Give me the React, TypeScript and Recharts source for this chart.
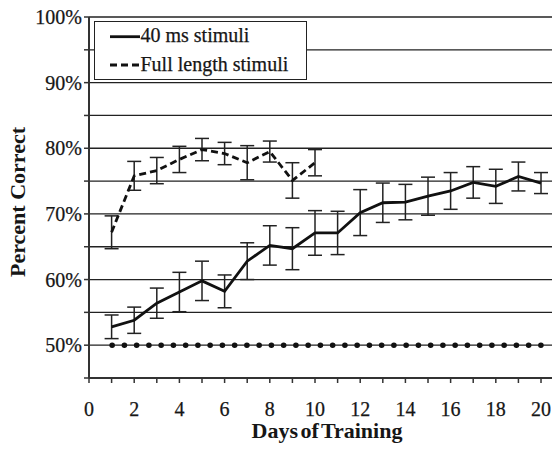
import React from 'react';
import { ComposedChart, Line, XAxis, YAxis, CartesianGrid, ErrorBar, Legend, ReferenceLine } from 'recharts';

const days40 = [1, 2, 3, 4, 5, 6, 7, 8, 9, 10, 11, 12, 13, 14, 15, 16, 17, 18, 19, 20];
const pct40 = [52.8, 53.8, 56.4, 58.1, 59.8, 58.2, 62.8, 65.2, 64.7, 67.1, 67.1, 70.2, 71.7, 71.8, 72.7, 73.5, 74.8, 74.2, 75.7, 74.7];
const err40 = [1.8, 2.0, 2.3, 3.0, 3.0, 2.5, 2.8, 3.0, 3.2, 3.4, 3.3, 3.5, 3.0, 2.7, 2.9, 2.8, 2.4, 2.6, 2.2, 1.6];

const daysFull = [1, 2, 3, 4, 5, 6, 7, 8, 9, 10];
const pctFull = [67.2, 75.8, 76.6, 78.3, 79.8, 79.2, 77.8, 79.5, 75.1, 77.8];
const errFull = [2.5, 2.2, 2.0, 2.0, 1.7, 1.7, 2.6, 1.6, 2.7, 2.0];

const chanceDays = [1, 20];
const chanceLevel = 50;

const xTicks = [0, 1, 2, 3, 4, 5, 6, 7, 8, 9, 10, 11, 12, 13, 14, 15, 16, 17, 18, 19, 20];
const yTicks = [45, 50, 55, 60, 65, 70, 75, 80, 85, 90, 95, 100];

const seriesNames = ['40 ms stimuli', 'Full length stimuli'];
const xTitle = 'Days of Training';
const yTitle = 'Percent Correct';

const FONT = '"Liberation Serif", "Times New Roman", serif';
const INK = '#161616';

const data40 = days40.map((d, i) => ({ day: d, pct: pct40[i], err: err40[i] }));
const dataFull = daysFull.map((d, i) => ({ day: d, pct: pctFull[i], err: errFull[i] }));

const LegendBox = () => (
  <div
    style={{
      width: 213,
      height: 59,
      boxSizing: 'border-box',
      border: '1.5px solid #222',
      background: '#fff',
    }}
  >
    <svg width={210} height={56} style={{ display: 'block' }}>
      <line x1={15} x2={45} y1={14.7} y2={14.7} stroke="#111" strokeWidth={2.8} />
      <text x={45.5} y={20.3} style={{ fontFamily: FONT }} fontSize={20} fill={INK} stroke={INK} strokeWidth={0.25}>
        {seriesNames[0]}
      </text>
      <line x1={15} x2={45} y1={43} y2={43} stroke="#111" strokeWidth={2.8} strokeDasharray="7 4" />
      <text x={45.5} y={48.7} style={{ fontFamily: FONT }} fontSize={20} fill={INK} stroke={INK} strokeWidth={0.25}>
        {seriesNames[1]}
      </text>
    </svg>
  </div>
);

export default function App() {
  return (
    <div>
      <ComposedChart width={552} height={442} margin={{ top: 9, right: 0, bottom: 0, left: 0 }}>
        <CartesianGrid vertical={false} stroke="#222" strokeWidth={1.3} />
        <XAxis
          type="number"
          dataKey="day"
          domain={[0, 20.84]}
          ticks={xTicks}
          interval={0}
          allowDataOverflow
          height={72}
          tickSize={5}
          tickMargin={19}
          axisLine={{ stroke: '#333', strokeWidth: 2 }}
          tickLine={{ stroke: '#333', strokeWidth: 1.5 }}
          tick={{ fontSize: 20, fill: INK, stroke: INK, strokeWidth: 0.25, style: { fontFamily: FONT } }}
          tickFormatter={(v: number) => (v % 2 === 0 ? String(v) : '')}
          label={() => (
            <text x={319} y={429.5} textAnchor="middle" style={{ fontFamily: FONT }} fontSize={22} fontWeight="bold" fill={INK} wordSpacing={-3}>
              {xTitle}
            </text>
          )}
        />
        <YAxis
          type="number"
          domain={[45, 100]}
          ticks={yTicks}
          interval={0}
          allowDataOverflow
          width={81}
          tickSize={5}
          tickMargin={2}
          axisLine={{ stroke: '#333', strokeWidth: 2 }}
          tickLine={{ stroke: '#333', strokeWidth: 1.5 }}
          tick={{ fontSize: 20, fill: INK, stroke: INK, strokeWidth: 0.25, style: { fontFamily: FONT } }}
          tickFormatter={(v: number) => (v % 10 === 0 ? `${v}%` : '')}
          label={() => (
            <text
              x={17}
              y={194}
              transform="rotate(-90, 17, 194)"
              textAnchor="middle"
              style={{ fontFamily: FONT }}
              fontSize={22}
              fontWeight="bold"
              fill={INK}
            >
              {yTitle}
            </text>
          )}
        />
        <Legend
          layout="horizontal"
          verticalAlign="middle"
          align="center"
          wrapperStyle={{ left: 85.5, top: 12.5, width: 213, height: 59 }}
          content={() => <LegendBox />}
        />
        <ReferenceLine
          segment={[
            { x: chanceDays[0], y: chanceLevel },
            { x: chanceDays[1], y: chanceLevel },
          ]}
          stroke="#111"
          strokeWidth={5.5}
          strokeLinecap="round"
          strokeDasharray="0.1 12.15"
          strokeDashoffset={-0.5}
        />
        <Line
          data={dataFull}
          dataKey="pct"
          name={seriesNames[1]}
          stroke="#111"
          strokeWidth={2.8}
          strokeDasharray="7 4"
          dot={false}
          activeDot={false}
          isAnimationActive={false}
        >
          <ErrorBar dataKey="err" width={7} stroke="#222" strokeWidth={1.5} direction="y" />
        </Line>
        <Line
          data={data40}
          dataKey="pct"
          name={seriesNames[0]}
          stroke="#111"
          strokeWidth={2.8}
          dot={false}
          activeDot={false}
          isAnimationActive={false}
        >
          <ErrorBar dataKey="err" width={7} stroke="#222" strokeWidth={1.5} direction="y" />
        </Line>
      </ComposedChart>
    </div>
  );
}
